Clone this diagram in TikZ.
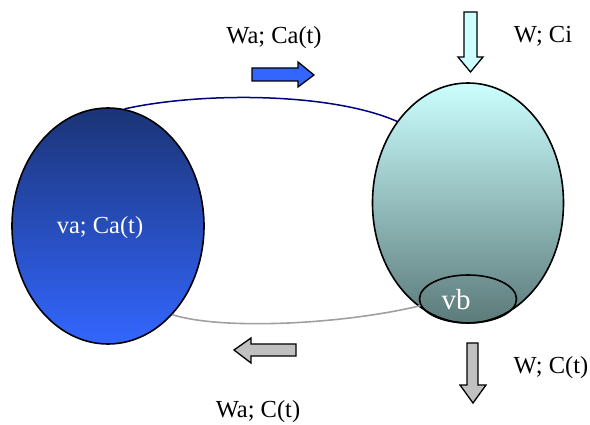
\documentclass[tikz,border=0pt]{standalone}
\usepackage{fontspec}
\setmainfont{Liberation Serif}
\usetikzlibrary{shapes.geometric}
\definecolor{navytop}{RGB}{27,52,118}
\definecolor{bluebot}{RGB}{51,102,255}
\definecolor{cyantop}{RGB}{204,255,255}
\definecolor{tealbot}{RGB}{92,122,122}
\definecolor{arrowblue}{RGB}{51,102,255}
\definecolor{arrowcyan}{RGB}{204,255,255}
\definecolor{arrowgray}{RGB}{192,192,192}
\definecolor{linkblue}{RGB}{0,0,128}
\definecolor{linkgray}{RGB}{160,160,160}
\begin{document}
\begin{tikzpicture}[x=1pt,y=-1pt,
  tank/.style={ellipse,draw=black,line width=1.6pt,inner sep=0pt},
  lbl/.style={font=\fontsize{24.5}{28}\selectfont,inner sep=0pt},
  flow/.style={draw=black,line width=1.3pt,line join=miter}]
\useasboundingbox (0,0) rectangle (590,425);
% tanks
\node[tank,minimum width=192pt,minimum height=236pt,top color=navytop,bottom color=bluebot] (L) at (108,226) {};
\node[tank,minimum width=191pt,minimum height=240pt,top color=cyantop,bottom color=tealbot] (R) at (468,203) {};
\node[tank,minimum width=97pt,minimum height=48pt] (vb) at (468,299) {};
% texts
\node[lbl,text=white] (tL) at (100,228) {va; Ca(t)};
\node[lbl,text=white,font=\fontsize{29}{32}\selectfont] (tvb) at (456,300) {vb};
\node[lbl] (t1) at (274,38) {Wa; Ca(t)};
\node[lbl] (t2) at (543,36) {W; Ci};
\node[lbl] (t3) at (551,368) {W; C(t)};
\node[lbl] (t4) at (258,412) {Wa; C(t)};
% connectors
\draw[linkblue,line width=1.5pt] (L.82) .. controls (200,92) and (330,92) .. (R.131);
\draw[linkgray,line width=1.6pt] (L.-54) .. controls (220,330) and (340,325) .. (vb.188);
% flow arrows
\draw[flow,fill=arrowblue] (252,68) -- (298,68) -- (298,62) -- (314,75) -- (298,87) -- (298,81) -- (252,81) -- cycle;
\draw[flow,fill=arrowcyan] (464,12) -- (477,12) -- (477,57) -- (483,57) -- (470.5,72) -- (458,57) -- (464,57) -- cycle;
\draw[flow,fill=arrowgray] (467,343) -- (478,343) -- (478,385) -- (486,385) -- (473,403) -- (460,385) -- (467,385) -- cycle;
\draw[flow,fill=arrowgray] (296,344) -- (251,344) -- (251,338) -- (234,350) -- (251,363) -- (251,356) -- (296,356) -- cycle;
\end{tikzpicture}
\end{document}
